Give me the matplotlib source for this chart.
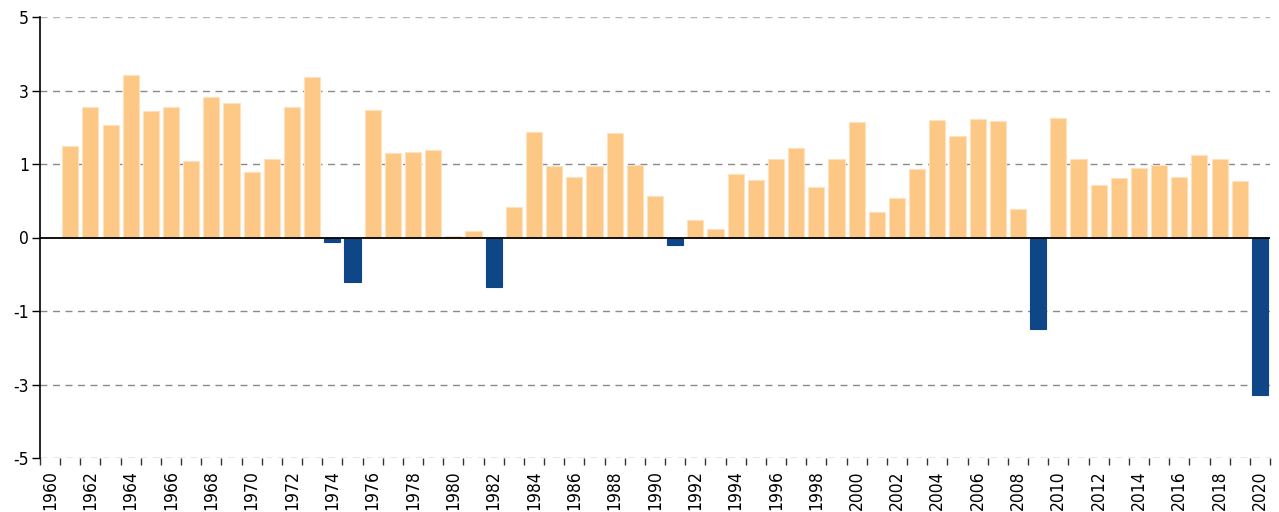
import matplotlib.pyplot as plt
from matplotlib import font_manager
import numpy as np

# Data (1960 has no bar)
years = list(range(1961, 2021))
values = [
    2.07, 2.95, 2.55, 3.69, 2.86, 2.95, 1.73, 3.19, 3.05, 1.49,   # 1961-1970
    1.77, 2.95, 3.64, -0.11, -1.02, 2.88, 1.92, 1.95, 1.99, 0.045,  # 1971-1980
    0.14, -1.13, 0.69, 2.40, 1.62, 1.38, 1.61, 2.38, 1.64, 0.94,   # 1981-1990
    -0.17, 0.39, 0.20, 1.45, 1.30, 1.77, 2.02, 1.15, 1.77, 2.61,   # 1991-2000
    0.58, 0.89, 1.56, 2.67, 2.31, 2.69, 2.64, 0.64, -2.08, 2.72,   # 2001-2010
    1.77, 1.20, 1.35, 1.58, 1.64, 1.37, 1.86, 1.79, 1.27, -3.58,   # 2011-2020
]
label_years = list(range(1960, 2021, 2))
ytick_values = [-5, -10 / 3, -5 / 3, 0, 5 / 3, 10 / 3, 5]
ytick_labels = ["-5", "-3", "-1", "0", "1", "3", "5"]

POS_COLOR = "#fdc886"
NEG_COLOR = "#0f4687"

# pick a narrow font if one is installed
installed = font_manager.fontManager.ttflist
names = {f.name for f in installed}
font_kw = {"family": "DejaVu Sans", "size": 11}
if "Liberation Sans Narrow" in names:
    font_kw = {"family": "Liberation Sans Narrow", "size": 14}
elif any(f.name == "DejaVu Sans" and f.stretch == "condensed" for f in installed):
    font_kw = {"family": "DejaVu Sans", "size": 12.5, "stretch": "condensed"}

fig = plt.figure(figsize=(12.79, 5.12), dpi=100)
ax = fig.add_axes([40 / 1279, 1 - 458 / 512, 1230 / 1279, 441 / 512])

colors = [POS_COLOR if v >= 0 else NEG_COLOR for v in values]
edges = ["#fde2bd" if v >= 0 else NEG_COLOR for v in values]
ax.bar(years, values, width=0.8, color=colors, edgecolor=edges, linewidth=0.8, zorder=3)

# gridlines
for yv in ytick_values:
    if yv == 0:
        ax.axhline(0, color="black", linewidth=1.3, zorder=4)
    else:
        c = "#b5b5b5" if yv == 5 else "#8a8a8a"
        ax.axhline(yv, color=c, linewidth=1.0, linestyle=(0, (5, 4)), zorder=1)

ax.set_xlim(1959.5, 2020.5)
ax.set_ylim(-5, 5)

ax.set_yticks(ytick_values)
ax.set_yticklabels(ytick_labels, **font_kw)
ax.tick_params(axis="y", length=6, width=1, pad=2)

# ticks at category boundaries, labels at centers
ax.set_xticks(np.arange(1959.5, 2021, 1))
ax.set_xticklabels([])
ax.tick_params(axis="x", which="major", length=5, width=1, color="#333333")
ax.set_xticks(label_years, minor=True)
ax.set_xticklabels([str(y) for y in label_years], minor=True, rotation=90, **font_kw)
ax.tick_params(axis="x", which="minor", length=0, pad=9)

for s in ["top", "right", "bottom"]:
    ax.spines[s].set_visible(False)
ax.spines["left"].set_linewidth(1.2)

fig.savefig("out.png", dpi=100)
